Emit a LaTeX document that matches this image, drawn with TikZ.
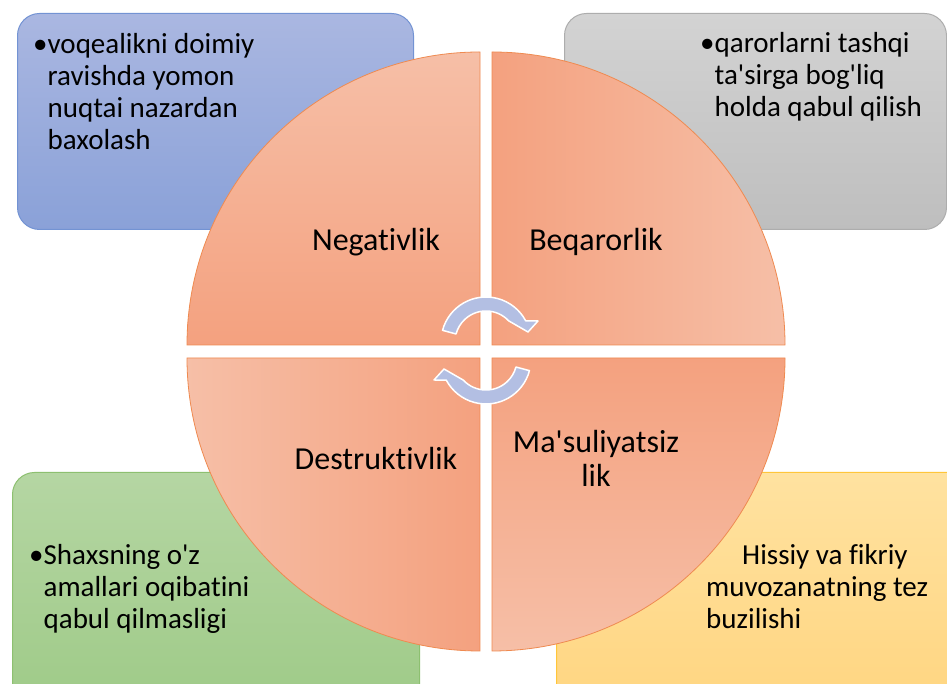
\documentclass[tikz,border=0pt]{standalone}
\usepackage{fontspec}
\setmainfont{Carlito}[Ligatures={CommonOff,TeXOff}]
\usetikzlibrary{positioning}

\definecolor{quaddark}{HTML}{F4A17F}
\definecolor{quadlight}{HTML}{F6BFA7}
\definecolor{quadline}{HTML}{EF8A50}
\definecolor{arrowblue}{HTML}{B3BFE3}
\definecolor{bluetop}{HTML}{AAB7E1}
\definecolor{bluebot}{HTML}{8AA1D8}
\definecolor{blueline}{HTML}{7393D3}
\definecolor{graytop}{HTML}{D3D3D3}
\definecolor{graybot}{HTML}{BEBEBE}
\definecolor{grayline}{HTML}{ADADAD}
\definecolor{greentop}{HTML}{B5D6A3}
\definecolor{greenbot}{HTML}{9ECA87}
\definecolor{greenline}{HTML}{8DC070}
\definecolor{yellowtop}{HTML}{FFE2A0}
\definecolor{yellowbot}{HTML}{FFD580}
\definecolor{yellowline}{HTML}{FFC63A}

\tikzset{
  infobox/.style={rounded corners=22pt, line width=1pt, anchor=south west, inner sep=0pt},
  quadrant/.style={draw=quadline, line width=0.8pt},
  boxtext/.style={font=\fontsize{29}{32}\selectfont, align=left, anchor=base west, inner sep=0pt},
  quadtext/.style={font=\fontsize{32}{34}\selectfont, align=center, anchor=base, inner sep=0pt},
  cyclearrow/.style={fill=arrowblue, draw=white, line width=1.5pt, line join=round},
}

\begin{document}
\begin{tikzpicture}[x=1pt, y=1pt]
    \clip (0,0) rectangle (947,684);
    \fill[white] (0,0) rectangle (947,684);

    \node (negbox) [infobox, draw=blueline, top color=bluetop, bottom color=bluebot,
        minimum width=396pt, minimum height=216pt] at (17,454) {};
    \node (beqbox) [infobox, draw=grayline, top color=graytop, bottom color=graybot,
        minimum width=382pt, minimum height=216pt] at (564,454) {};
    \node (desbox) [infobox, draw=greenline, top color=greentop, bottom color=greenbot,
        minimum width=407pt, minimum height=240pt] at (12,-29) {};
    \node (masbox) [infobox, draw=yellowline, top color=yellowtop, bottom color=yellowbot,
        minimum width=420pt, minimum height=240pt] at (556,-29) {};

    \path [quadrant, top color=quadlight, bottom color=quaddark]
        (480,339) -- (187,339) arc (180:90:293) -- cycle;
    \path [quadrant, left color=quaddark, right color=quadlight]
        (492,339) -- (492,632) arc (90:0:293) -- cycle;
    \path [quadrant, top color=quaddark, bottom color=quadlight]
        (492,326) -- (785,326) arc (0:-90:293) -- cycle;
    \path [quadrant, left color=quadlight, right color=quaddark]
        (480,326) -- (480,33) arc (270:180:293) -- cycle;

    \node (neg) [quadtext] at (376,433) {Negativlik};
    \node (beq) [quadtext] at (596,433) {Beqarorlik};
    \node (des) [quadtext] at (376,214) {Destruktivlik};
    \node (mas) [quadtext] at (596,197) {Ma\textquotesingle suliyatsiz\\lik};

    \path [cyclearrow, shift={(486,342)}]
        (165:45) arc (165:28:45) -- (52,21) -- (42,10) -- (43:31) arc (43:165:31) -- cycle;
    \path [cyclearrow, shift={(486,325)}, rotate=180]
        (165:45) arc (165:28:45) -- (52,21) -- (42,10) -- (43:31) arc (43:165:31) -- cycle;

    \node (negtext) [boxtext] at (33,534) {•voqealikni doimiy\\\phantom{•}ravishda yomon\\\phantom{•}nuqtai nazardan\\\phantom{•}baxolash};
    \node (beqtext) [boxtext] at (700,567) {•qarorlarni tashqi\\\phantom{•}ta\textquotesingle sirga bog\textquotesingle liq\\\phantom{•}holda qabul qilish};
    \node (destext) [boxtext] at (29,55) {•Shaxsning o\textquotesingle z\\\phantom{•}amallari oqibatini\\\phantom{•}qabul qilmasligi};
    \node (mastext) [boxtext] at (706,55) {\hspace*{36pt}Hissiy va fikriy\\muvozanatning tez\\buzilishi};
\end{tikzpicture}
\end{document}
